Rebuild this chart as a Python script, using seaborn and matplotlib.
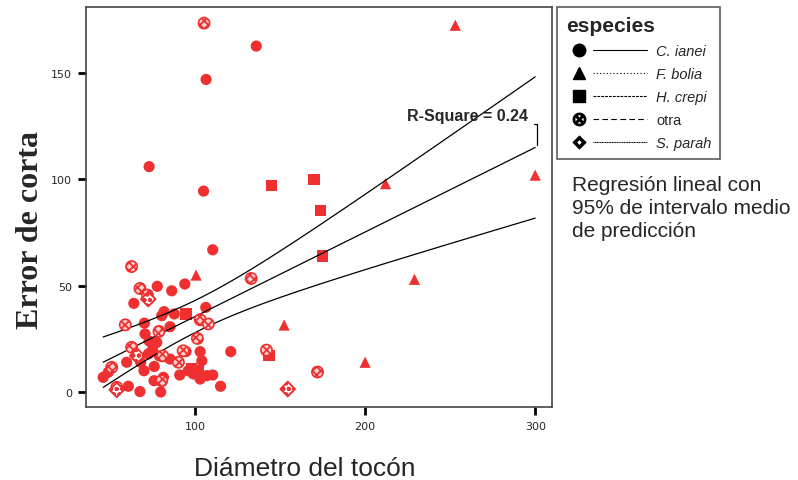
import numpy as np
import pandas as pd
import matplotlib
matplotlib.use("Agg")
import matplotlib.pyplot as plt
import seaborn as sns
from matplotlib.lines import Line2D
from matplotlib.legend_handler import HandlerTuple

# values
ianei_x = [136, 106.5, 73, 105, 110.4, 94, 77.8, 86.3, 64, 106.3, 81.8, 80.4, 87.8, 85.3, 70.2,
           70.6, 73, 77.5, 94.7, 103, 121, 65.7, 72.5, 59.8, 46, 49, 60.8, 67.6, 79.8, 115,
           91, 103, 107, 104, 110.4, 75.9, 81.4, 85.3, 76, 70, 68, 79, 75, 96, 99]
ianei_y = [162.7, 147, 106, 94.5, 66.9, 50.8, 49.7, 47.6, 41.7, 39.8, 37.8, 35.9, 36.7, 30.7, 32.4,
           27.3, 24, 23.3, 19, 19, 19, 17, 17.9, 14, 6.9, 9.3, 2.7, 0.2, 0, 2.7,
           8, 6.1, 7.7, 14.7, 8, 5.3, 6.9, 15.5, 12, 10, 14, 17, 20, 10, 8.5]
bolia_x = [253, 212, 300, 229, 200, 100.6, 152.4]
bolia_y = [172.5, 98, 102, 53, 14, 55, 31.5]
crepi_x = [145, 170, 174, 175, 94.7, 143.5, 98, 102]
crepi_y = [97, 100, 85.5, 64, 36.7, 17, 11, 10]
otra_x = [105.3, 62.7, 67.6, 72, 133, 103, 107.8, 59, 78.8, 101.4, 62.7, 93, 142, 51, 54,
          90.2, 172, 81, 80.4]
otra_y = [173.5, 59, 48.7, 45.6, 53.4, 34, 32, 31.6, 28.5, 25.2, 21, 19.4, 19.7, 11.6, 2.2,
          14, 9.4, 17, 5.3]
parah_x = [72.5, 154.5, 54, 66]
parah_y = [43.7, 1.4, 1, 17]

especies = ["C. ianei", "F. bolia", "H. crepi", "otra", "S. parah"]
r2_label = "R-Square = 0.24"

df = pd.concat([
    pd.DataFrame({"x": ianei_x, "y": ianei_y, "especies": "C. ianei"}),
    pd.DataFrame({"x": bolia_x, "y": bolia_y, "especies": "F. bolia"}),
    pd.DataFrame({"x": crepi_x, "y": crepi_y, "especies": "H. crepi"}),
    pd.DataFrame({"x": otra_x, "y": otra_y, "especies": "otra"}),
    pd.DataFrame({"x": parah_x, "y": parah_y, "especies": "S. parah"}),
], ignore_index=True)

sns.set_style("white")
plt.rcParams["font.family"] = ["Liberation Sans", "DejaVu Sans"]
plt.rcParams["hatch.color"] = "#f03030"
plt.rcParams["hatch.linewidth"] = 1.3

red = "#f03030"
fig = plt.figure(figsize=(7.98, 4.81), dpi=100)
ax = fig.add_axes([0.108, 0.152, 0.584, 0.831])

filled = df[df.especies.isin(["C. ianei", "F. bolia", "H. crepi"])]
sns.scatterplot(data=filled, x="x", y="y", style="especies",
                markers={"C. ianei": "o", "F. bolia": "^", "H. crepi": "s"},
                color=red, s=65, linewidth=0, legend=False, ax=ax)
ax.scatter(otra_x, otra_y, s=65, marker="o", facecolor="#fbd0d0", edgecolor=red,
           linewidth=1.2, hatch="xxxx", zorder=3)
ax.scatter(parah_x, parah_y, s=55, marker="D", facecolor="white", edgecolor=red,
           linewidth=1.4, hatch="ooo", zorder=3)

# OLS fit with 95% mean confidence band
x = df.x.to_numpy()
y = df.y.to_numpy()
n = len(x)
b1, b0 = np.polyfit(x, y, 1)
resid = y - (b0 + b1 * x)
s = np.sqrt(np.sum(resid ** 2) / (n - 2))
sxx = np.sum((x - x.mean()) ** 2)
xs = np.linspace(x.min(), x.max(), 100)
ys = b0 + b1 * xs
half = 1.99 * s * np.sqrt(1 / n + (xs - x.mean()) ** 2 / sxx)
for yy in (ys, ys + half, ys - half):
    ax.plot(xs, yy, color="black", lw=0.9, zorder=2)

ax.text(260, 130, r2_label, ha="center", va="center", fontsize=11.5, fontweight="bold")
yt = 126
ax.plot([299, 300.8, 300.8], [yt, yt, b0 + b1 * x.max() + 1], color="black", lw=0.9)

ax.set_xlim(36, 310)
ax.set_ylim(-7, 181)
ax.set_xticks([100, 200, 300])
ax.set_yticks([0, 50, 100, 150])
ax.tick_params(axis="both", direction="out", length=6, width=2, labelsize=8, color="black",
               bottom=True, left=True, pad=4)
for lab in ax.get_xticklabels() + ax.get_yticklabels():
    lab.set_family("DejaVu Sans")
for sp in ax.spines.values():
    sp.set_color("#444444")
    sp.set_linewidth(1.2)

ax.set_xlabel("Diámetro del tocón", fontsize=19)
ax.xaxis.set_label_coords(0.468, -0.122)
ax.set_ylabel("Error de corta", fontsize=23, fontweight="bold",
              family=["Liberation Serif", "DejaVu Serif"])
ax.yaxis.set_label_coords(-0.088, 0.445)

# legend: marker, then the line style of each species
line_styles = ["-", (0, (1, 2)), (0, (2.5, 1)), (0, (5, 3)), (0, (1, 0.5))]
marks = ["o", "^", "s", "$\\otimes$", "$\\diamond$"]
handles = []
for m, ls in zip(marks, line_styles):
    mk = Line2D([], [], marker=m, color="black", linestyle="none", markersize=9)
    ln = Line2D([], [], color="black", linestyle=ls, lw=0.8)
    handles.append((mk, ln, ln))
leg = fig.legend(handles, especies, handler_map={tuple: HandlerTuple(ndivide=None, pad=0)},
                 loc="upper left", bbox_to_anchor=(0.698, 0.983), title="especies",
                 fontsize=10.5, handlelength=5.6, handletextpad=0.6, frameon=True, fancybox=False,
                 edgecolor="#333333", borderpad=0.6, labelspacing=0.62, alignment="left",
                 borderaxespad=0)
leg.get_frame().set_linewidth(1.2)
leg.get_title().set_fontweight("bold")
leg.get_title().set_fontsize(15)
for t, name in zip(leg.get_texts(), especies):
    if name != "otra":
        t.set_fontstyle("italic")

fig.text(0.717, 0.634, "Regresión lineal con\n95% de intervalo medio\nde predicción",
         fontsize=15, va="top", ha="left", linespacing=1.25)

fig.savefig("out.png", dpi=100)
